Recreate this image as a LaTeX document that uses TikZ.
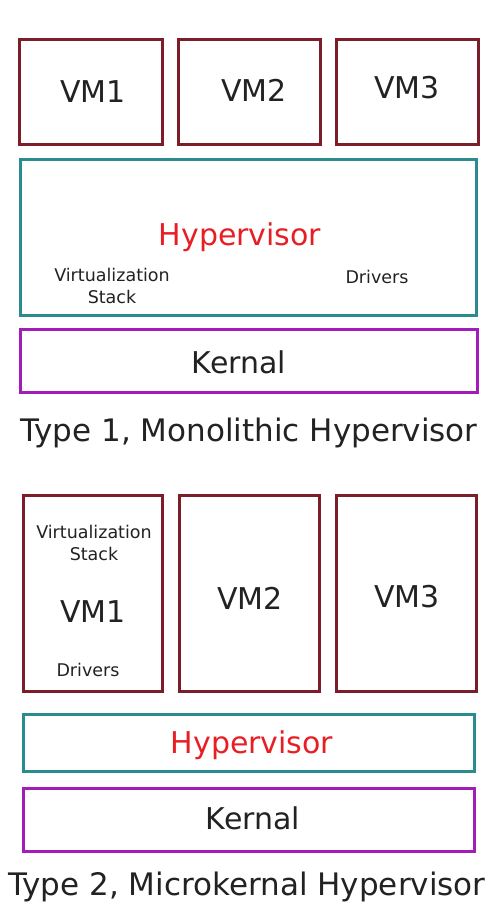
\documentclass[tikz,border=0pt]{standalone}
\usepackage{fontspec}
\setmainfont{DejaVu Sans}
\definecolor{vmc}{HTML}{7B1E2A}
\definecolor{hyc}{HTML}{2A8C8F}
\definecolor{knc}{HTML}{A21CB8}
\definecolor{hytext}{HTML}{E81E25}
\definecolor{txt}{HTML}{222222}
\tikzset{
  box/.style={draw, rectangle, line width=2.8pt, inner sep=0pt, text=txt},
  vmbox/.style={box, draw=vmc},
  hybox/.style={box, draw=hyc},
  knbox/.style={box, draw=knc},
  big/.style={font=\fontsize{30}{36}\selectfont, text=txt},
  hytxt/.style={font=\fontsize{30}{36}\selectfont, text=hytext},
  small/.style={font=\fontsize{17.5}{22}\selectfont, text=txt, align=center},
  title/.style={font=\fontsize{31}{37}\selectfont, text=txt}
}
\begin{document}
\begin{tikzpicture}[x=1pt,y=-1pt]
\useasboundingbox[fill=white] (0,0) rectangle (495,902);
% Type 1
\node[vmbox, minimum width=143, minimum height=105] (a1) at (91,92) {};
\node[vmbox, minimum width=142, minimum height=105] (a2) at (249.5,92) {};
\node[vmbox, minimum width=142, minimum height=105] (a3) at (407.5,92) {};
\node[big] (a1t) at (93,92) {VM1};
\node[big] (a2t) at (254,90) {VM2};
\node[big] (a3t) at (407,88) {VM3};
\node[hybox, minimum width=456, minimum height=156] (ah) at (248.5,237.5) {};
\node[hytxt] (aht) at (240,237) {Hypervisor};
\node[small] (avs) at (112,286) {Virtualization\\Stack};
\node[small] (adr) at (377,277) {Drivers};
\node[knbox, minimum width=457, minimum height=63] (ak) at (249,361) {};
\node[big] (akt) at (239,362) {Kernal};
\node[title] (at) at (249,433) {Type 1, Monolithic Hypervisor};
% Type 2
\node[vmbox, minimum width=139, minimum height=196] (b1) at (93,593.5) {};
\node[vmbox, minimum width=140, minimum height=196] (b2) at (249.5,593.5) {};
\node[vmbox, minimum width=140, minimum height=196] (b3) at (406.5,593.5) {};
\node[small] (bvs) at (94,542.5) {Virtualization\\Stack};
\node[big] (b1t) at (93,612) {VM1};
\node[small] (bdr) at (88,670) {Drivers};
\node[big] (b2t) at (250,598) {VM2};
\node[big] (b3t) at (407,597) {VM3};
\node[hybox, minimum width=451, minimum height=57] (bh) at (249,743) {};
\node[hytxt] (bht) at (252,745) {Hypervisor};
\node[knbox, minimum width=451, minimum height=63] (bk) at (249,820) {};
\node[big] (bkt) at (253,818) {Kernal};
\node[title] (bt) at (247,887) {Type 2, Microkernal Hypervisor};
\end{tikzpicture}
\end{document}
